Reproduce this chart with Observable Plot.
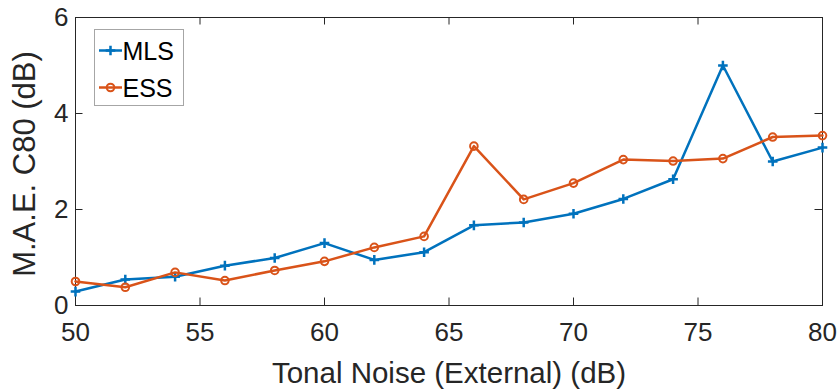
<!DOCTYPE html>
<html>
<head>
<meta charset="utf-8">
<script src="https://cdn.jsdelivr.net/npm/d3@7"></script>
<script src="https://cdn.jsdelivr.net/npm/@observablehq/plot@0.6"></script>
<style>
  html, body { margin: 0; padding: 0; background: #fff; }
  #wrap { position: relative; width: 838px; height: 392px; }
  #overlay { position: absolute; left: 0; top: 0; pointer-events: none; }
</style>
</head>
<body>
<div id="wrap"></div>
<script>
// Noise level (dB) sampled every 2 dB
const noiseLevels = [50, 52, 54, 56, 58, 60, 62, 64, 66, 68, 70, 72, 74, 76, 78, 80];
// Mean absolute error of C80 (dB) for each excitation signal
const mlsError = [0.29, 0.54, 0.60, 0.83, 0.99, 1.30, 0.95, 1.11, 1.67, 1.73, 1.91, 2.22, 2.63, 5.00, 3.00, 3.29];
const essError = [0.50, 0.38, 0.69, 0.52, 0.73, 0.92, 1.21, 1.44, 3.32, 2.21, 2.55, 3.04, 3.01, 3.06, 3.51, 3.54];
const seriesNames = ["MLS", "ESS"];
const seriesColors = ["#0072BD", "#D95319"];
const xTicks = [50, 55, 60, 65, 70, 75, 80];
const yTicks = [0, 2, 4, 6];
const xTitle = "Tonal Noise (External) (dB)";
const yTitle = "M.A.E. C80 (dB)";

const W = 838, H = 392;
const mL = 75, mR = 16, mT = 17, mB = 87;
const plotW = W - mL - mR, plotH = H - mT - mB;
const tickLen = 7.5;
const font = "'Liberation Sans', Arial, Helvetica, sans-serif";
const ink = "#262626";

const mls = noiseLevels.map((x, i) => ({x, y: mlsError[i]}));
const ess = noiseLevels.map((x, i) => ({x, y: essError[i]}));

// Thin stroked "+" marker
const plusSymbol = {
  draw(context, size) {
    const r = Math.sqrt(size / Math.PI);
    context.moveTo(-r, 0); context.lineTo(r, 0);
    context.moveTo(0, -r); context.lineTo(0, r);
  }
};

const chart = Plot.plot({
  width: W,
  height: H,
  marginLeft: mL,
  marginRight: mR,
  marginTop: mT,
  marginBottom: mB,
  style: {fontFamily: font, color: ink, background: "#fff", overflow: "visible"},
  x: {domain: [50, 80]},
  y: {domain: [0, 6]},
  marks: [
    // inward ticks on all four sides
    Plot.tickX(xTicks, {x: d => d, insetTop: plotH - tickLen, stroke: ink}),
    Plot.tickX(xTicks, {x: d => d, insetBottom: plotH - tickLen, stroke: ink}),
    Plot.tickY(yTicks, {y: d => d, insetRight: plotW - tickLen, stroke: ink}),
    Plot.tickY(yTicks, {y: d => d, insetLeft: plotW - tickLen, stroke: ink}),
    Plot.frame({stroke: ink, strokeWidth: 1}),
    Plot.axisX({ticks: xTicks, tickSize: 0, tickPadding: 17, fontSize: 26, label: null, tickFormat: d => String(d)}),
    Plot.axisY({ticks: yTicks, tickSize: 0, tickPadding: 7, fontSize: 26, label: null, tickFormat: d => String(d)}),
    // MLS series
    Plot.line(mls, {x: "x", y: "y", stroke: seriesColors[0], strokeWidth: 2.5}),
    Plot.dot(mls, {x: "x", y: "y", symbol: plusSymbol, r: 4.8, stroke: seriesColors[0], strokeWidth: 2.5, fill: "none"}),
    // ESS series
    Plot.line(ess, {x: "x", y: "y", stroke: seriesColors[1], strokeWidth: 2.5}),
    Plot.dot(ess, {x: "x", y: "y", r: 3.8, stroke: seriesColors[1], strokeWidth: 2, fill: "none"}),
    // x-axis title
    Plot.text([xTitle], {frameAnchor: "bottom", dy: 68, text: d => d, fontSize: 29.5, fill: ink, lineAnchor: "middle"})
  ]
});

const wrap = document.getElementById("wrap");
wrap.appendChild(chart);

const overlay = d3.create("svg")
  .attr("id", "overlay")
  .attr("width", W)
  .attr("height", H);

// y-axis title, rotated along the left edge
overlay.append("text")
  .attr("transform", "translate(35,164) rotate(-90)")
  .attr("text-anchor", "middle")
  .attr("font-family", font)
  .attr("font-size", 31)
  .attr("fill", ink)
  .text(yTitle);

// Legend box in the upper-left corner of the axes
const box = {x: 94.5, y: 29.5, w: 89, h: 76};
overlay.append("rect")
  .attr("x", box.x).attr("y", box.y).attr("width", box.w).attr("height", box.h)
  .attr("fill", "#fff").attr("stroke", "#a6a6a6").attr("stroke-width", 1);
const rowY = [50.5, 87.5];
seriesNames.forEach((name, i) => {
  const g = overlay.append("g").attr("transform", `translate(0,${rowY[i]})`);
  g.append("line").attr("x1", 99).attr("x2", 122).attr("y1", 0).attr("y2", 0)
    .attr("stroke", seriesColors[i]).attr("stroke-width", 2.5);
  if (i === 0) {
    g.append("path").attr("d", "M105.7,0H115.3M110.5,-4.8V4.8")
      .attr("stroke", seriesColors[i]).attr("stroke-width", 2.5).attr("fill", "none");
  } else {
    g.append("circle").attr("cx", 110.5).attr("cy", 0).attr("r", 3.8)
      .attr("stroke", seriesColors[i]).attr("stroke-width", 2).attr("fill", "none");
  }
  g.append("text").attr("x", 122.5).attr("y", 0).attr("dy", "0.36em")
    .attr("font-family", font).attr("font-size", 25).attr("fill", "#000")
    .text(name);
});
wrap.appendChild(overlay.node());
</script>
</body>
</html>
